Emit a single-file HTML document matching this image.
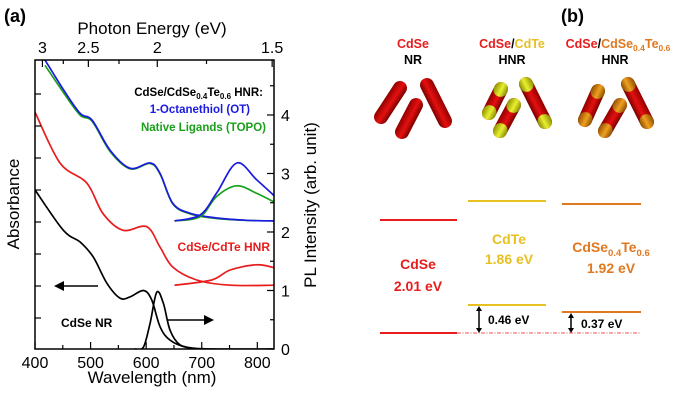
<!DOCTYPE html>
<html><head><meta charset="utf-8"><style>
html,body{margin:0;padding:0;background:#fff}
svg{display:block;font-family:"Liberation Sans",Arial,sans-serif}
</style></head><body>
<svg width="685" height="411" viewBox="0 0 685 411">
<defs>
<linearGradient id="gr" x1="0" y1="0" x2="1" y2="0"><stop offset="0" stop-color="#7a0000"/><stop offset="0.45" stop-color="#e61010"/><stop offset="1" stop-color="#900000"/></linearGradient>
<linearGradient id="gy" x1="0" y1="0" x2="1" y2="0"><stop offset="0" stop-color="#8a8a00"/><stop offset="0.45" stop-color="#e8f030"/><stop offset="1" stop-color="#909000"/></linearGradient>
<linearGradient id="go" x1="0" y1="0" x2="1" y2="0"><stop offset="0" stop-color="#8a5000"/><stop offset="0.45" stop-color="#f0a020"/><stop offset="1" stop-color="#905000"/></linearGradient>
</defs>
<text x="4" y="22" font-size="18" font-weight="bold">(a)</text>
<text x="561" y="22" font-size="18" font-weight="bold">(b)</text>
<g id="chart"></g>
<g id="diagram">
<text x="413" y="48" font-size="12.5" font-weight="bold" fill="#e81c1c" text-anchor="middle">CdSe</text>
<text x="413" y="64" font-size="12.5" font-weight="bold" text-anchor="middle">NR</text>
<text x="512" y="48" font-size="12.5" font-weight="bold" text-anchor="middle"><tspan fill="#e81c1c">CdSe</tspan><tspan fill="#000">/</tspan><tspan fill="#e8c020">CdTe</tspan></text>
<text x="512" y="64" font-size="12.5" font-weight="bold" text-anchor="middle">HNR</text>
<text x="618" y="48" font-size="12.5" font-weight="bold" text-anchor="middle"><tspan fill="#e81c1c">CdSe</tspan><tspan fill="#000">/</tspan><tspan fill="#e07820">CdSe<tspan font-size="8.5" dy="3">0.4</tspan><tspan dy="-3">Te</tspan><tspan font-size="8.5" dy="3">0.6</tspan></tspan></text>
<text x="615" y="64" font-size="12.5" font-weight="bold" text-anchor="middle">HNR</text>
<g id="rods"></g>
<line x1="380" y1="220" x2="457" y2="220" stroke="#e81c1c" stroke-width="2"/>
<line x1="380" y1="333" x2="457" y2="333" stroke="#e81c1c" stroke-width="2"/>
<line x1="457" y1="333" x2="641" y2="333" stroke="#e81c1c" stroke-width="0.8" stroke-dasharray="4,1.5,1,1.5"/>
<line x1="468" y1="201" x2="546" y2="201" stroke="#e8c020" stroke-width="2"/>
<line x1="468" y1="305" x2="546" y2="305" stroke="#e8c020" stroke-width="2"/>
<line x1="562" y1="204" x2="641" y2="204" stroke="#e07820" stroke-width="2"/>
<line x1="562" y1="312" x2="641" y2="312" stroke="#e07820" stroke-width="2"/>
<text x="418" y="269" font-size="14" font-weight="bold" fill="#e81c1c" text-anchor="middle">CdSe</text>
<text x="418" y="291" font-size="14" font-weight="bold" fill="#e81c1c" text-anchor="middle">2.01 eV</text>
<text x="509" y="244" font-size="14" font-weight="bold" fill="#e8c020" text-anchor="middle">CdTe</text>
<text x="509" y="264" font-size="14" font-weight="bold" fill="#e8c020" text-anchor="middle">1.86 eV</text>
<text x="611" y="252" font-size="14" font-weight="bold" fill="#e07820" text-anchor="middle">CdSe<tspan font-size="9.5" dy="4">0.4</tspan><tspan dy="-4">Te</tspan><tspan font-size="9.5" dy="4">0.6</tspan></text>
<text x="611" y="273" font-size="14" font-weight="bold" fill="#e07820" text-anchor="middle">1.92 eV</text>
<g stroke="#000" stroke-width="1.5" fill="#000">
<line x1="479" y1="309" x2="479" y2="330"/>
<path d="M476,311 L479,306 L482,311Z M476,328 L479,333 L482,328Z" stroke="none"/>
<line x1="571" y1="316" x2="571" y2="330"/>
<path d="M568,318 L571,313 L574,318Z M568,328 L571,333 L574,328Z" stroke="none"/>
</g>
<text x="488" y="324" font-size="12" font-weight="bold">0.46 eV</text>
<text x="581" y="328" font-size="12" font-weight="bold">0.37 eV</text>
</g>
</svg>
<script>
const NS="http://www.w3.org/2000/svg";
function mk(parent,tag,attrs){const e=document.createElementNS(NS,tag);for(const k in attrs)e.setAttribute(k,attrs[k]);parent.appendChild(e);return e;}
// data
const wlOT=[418,450,481,503,535,571,607,625,648,679,727,780,830];
const otAbs=[4.94,4.45,4.03,3.91,3.40,3.09,3.18,3.0,2.49,2.32,2.24,2.2,2.19];
const topoAbs=[4.85,4.40,4.00,3.89,3.38,3.08,3.17,2.99,2.48,2.31,2.23,2.2,2.19];
const wlRed=[400,445,493,522,558,601,625,648,691,751,830];
const redAbs=[4.05,3.18,2.84,2.32,2.03,2.09,1.74,1.40,1.18,1.09,1.09];
const wlBlk=[400,451,481,505,529,553,571,595,610,625,643,673,720,830];
const blkAbs=[2.72,2.03,1.83,1.57,1.13,0.87,0.89,1.0,0.84,0.38,0.15,0.03,0.0,0.0];
const wlPL=[651,697,727,763,799,835];
const otPL=[2.19,2.29,2.67,3.18,2.89,2.58];
const topoPL=[2.19,2.26,2.61,2.79,2.66,2.49];
const wlRPL=[651,718,751,799,835];
const redPL=[1.09,1.18,1.35,1.44,1.38];
const wlBPL=[580,595,607,619,631,643,661,690];
const blkPL=[0.0,0.03,0.44,0.97,0.78,0.32,0.07,0.0];
const plTicks=[0,1,2,3,4];
const wlTicks=[400,500,600,700,800];
const eTicks=[3,2.5,2,1.5];
const eLabels=["3","2.5","2","1.5"];
// axes
const X0=35,X1=274,Y0=349,Y1=60,WMIN=400,WMAX=830,VMAX=4.94;
const xs=w=>X0+(w-WMIN)/(WMAX-WMIN)*(X1-X0);
const ys=v=>Y0-v/VMAX*(Y0-Y1);
const g=document.getElementById('chart');
const clip=mk(g,'clipPath',{id:'pc'});mk(clip,'rect',{x:X0,y:Y1,width:X1-X0,height:Y0-Y1});
function line(xsArr,ysArr,color,name){
 const P=xsArr.map((w,i)=>[xs(w),ys(ysArr[i])]);
 let d="M"+P[0][0].toFixed(1)+","+P[0][1].toFixed(1);
 for(let i=0;i<P.length-1;i++){
  const p0=P[Math.max(0,i-1)],p1=P[i],p2=P[i+1],p3=P[Math.min(P.length-1,i+2)];
  const c1=[p1[0]+(p2[0]-p0[0])/6,p1[1]+(p2[1]-p0[1])/6];
  const c2=[p2[0]-(p3[0]-p1[0])/6,p2[1]-(p3[1]-p1[1])/6];
  d+="C"+c1.map(v=>v.toFixed(1))+" "+c2.map(v=>v.toFixed(1))+" "+p2.map(v=>v.toFixed(1));
 }
 const p=mk(g,'path',{d:d,fill:'none',stroke:color,'stroke-width':1.7,'stroke-linejoin':'round','clip-path':'url(#pc)'});
 
 
}
line(wlOT,topoAbs,'#1aa01a','topo-absorbance');
line(wlOT,otAbs,'#1a1ae0','ot-absorbance');
line(wlRed,redAbs,'#e81c1c','cdte-hnr-absorbance');
line(wlBlk,blkAbs,'#000','cdse-nr-absorbance');
line(wlPL,topoPL,'#1aa01a','topo-pl');
line(wlPL,otPL,'#1a1ae0','ot-pl');
line(wlRPL,redPL,'#e81c1c','cdte-hnr-pl');
line(wlBPL,blkPL,'#000','cdse-nr-pl');
const fr=mk(g,'rect',{x:X0,y:Y1,width:X1-X0,height:Y0-Y1,fill:'none',stroke:'#000','stroke-width':1.5});


for(let w=400;w<=800;w+=50){mk(g,'line',{x1:xs(w),y1:Y0,x2:xs(w),y2:Y0-(w%100?4:7),stroke:'#000','stroke-width':1.2});}
wlTicks.forEach(w=>{const t=mk(g,'text',{x:xs(w),y:Y0+19,'font-size':16,'text-anchor':'middle'});t.textContent=w;

});
eTicks.forEach((e,i)=>{const x=xs(1240/e);mk(g,'line',{x1:x,y1:Y1,x2:x,y2:Y1+7,stroke:'#000','stroke-width':1.2});
const t=mk(g,'text',{x:x,y:Y1-7,'font-size':16,'text-anchor':'middle'});t.textContent=eLabels[i];

});
[2.75,2.25,1.75].forEach(e=>{const x=xs(1240/e);mk(g,'line',{x1:x,y1:Y1,x2:x,y2:Y1+4,stroke:'#000','stroke-width':1.2});});
for(let v=0;v<=4.5;v+=0.5){mk(g,'line',{x1:X1,y1:ys(v),x2:X1-(v%1?4:7),y2:ys(v),stroke:'#000','stroke-width':1.2});}
plTicks.forEach(v=>{const t=mk(g,'text',{x:X1+7,y:ys(v)+6,'font-size':16});t.textContent=v;

});
for(let y=Y0-31;y>Y1+10;y-=32){mk(g,'line',{x1:X0,y1:y,x2:X0+6,y2:y,stroke:'#000','stroke-width':1.2});}
function txt(x,y,s,attrs,name){const t=mk(g,'text',Object.assign({x:x,y:y},attrs));t.innerHTML=s;

return t;}
txt(152,383,'Wavelength (nm)',{'font-size':17,'text-anchor':'middle'},'x-axis-title');
txt(152,34,'Photon Energy (eV)',{'font-size':17,'text-anchor':'middle'},'top-axis-title');
txt(19,204,'Absorbance',{'font-size':17,'text-anchor':'middle',transform:'rotate(-90 19 204)'},'y-axis-title');
txt(316,205,'PL Intensity (arb. unit)',{'font-size':17,'text-anchor':'middle',transform:'rotate(-90 316 205)'},'right-axis-title');
txt(263,96,'CdSe/CdSe<tspan font-size="8" dy="3">0.4</tspan><tspan dy="-3">Te</tspan><tspan font-size="8" dy="3">0.6</tspan><tspan dy="-3"> HNR:</tspan>',{'font-size':11.5,'font-weight':'bold','text-anchor':'end'},'legend-title');
txt(250,113,'1-Octanethiol (OT)',{'font-size':11.5,'font-weight':'bold','text-anchor':'end',fill:'#1a1ae0'},'legend-ot');
txt(266,131,'Native Ligands (TOPO)',{'font-size':11.5,'font-weight':'bold','text-anchor':'end',fill:'#1aa01a'},'legend-topo');
txt(270,251,'CdSe/CdTe HNR',{'font-size':12,'font-weight':'bold','text-anchor':'end',fill:'#e81c1c'},'label-cdte-hnr');
txt(61,327,'CdSe NR',{'font-size':12,'font-weight':'bold'},'label-cdse-nr');
mk(g,'line',{x1:98,y1:286,x2:62,y2:286,stroke:'#000','stroke-width':1.4});
mk(g,'path',{d:'M54,286 L64,281 L64,291Z',fill:'#000'});
mk(g,'line',{x1:167,y1:320,x2:206,y2:320,stroke:'#000','stroke-width':1.4});
mk(g,'path',{d:'M214,320 L204,315 L204,325Z',fill:'#000'});
const rg=document.getElementById('rods');
function rod(x1,y1,x2,y2,tip){
 const dx=x2-x1,dy=y2-y1,L=Math.hypot(dx,dy),a=Math.atan2(dy,dx)*180/Math.PI-90;
 const gg=mk(rg,'g',{transform:`translate(${x1},${y1}) rotate(${a})`});
 
 
 mk(gg,'rect',{x:-7,y:-7,width:14,height:L+14,rx:7,fill:'url(#gr)'});
 if(tip){mk(gg,'rect',{x:-7,y:-7,width:14,height:15,rx:7,fill:tip});mk(gg,'rect',{x:-7,y:L-8,width:14,height:15,rx:7,fill:tip});}
}
rod(381,117,400,88,null);rod(402,132,416,105,null);rod(427,85,445,121,null);
rod(489,113,501,89,'url(#gy)');rod(500,131,514,105,'url(#gy)');rod(526,84,545,122,'url(#gy)');
rod(585,120,598,91,'url(#go)');rod(605,131,620,105,'url(#go)');rod(628,84,647,122,'url(#go)');
</script>
</body></html>
